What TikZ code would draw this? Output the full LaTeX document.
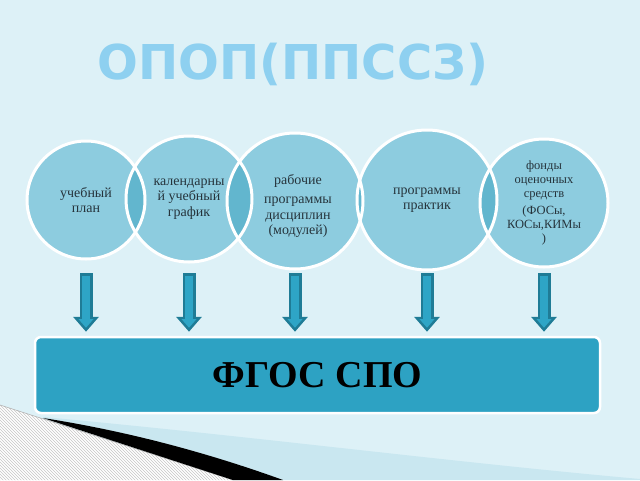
\documentclass[tikz,border=0pt]{standalone}
\usepackage{fontspec}
\setmainfont{Liberation Serif}
\newfontfamily\titlefont{DejaVu Sans}
\usetikzlibrary{arrows.meta,patterns}
\definecolor{bgcol}{HTML}{DDF1F7}
\definecolor{bandcol}{HTML}{C9E7F0}
\definecolor{circfill}{HTML}{8DCCDF}
\definecolor{lensfill}{HTML}{62B6CE}
\definecolor{titlecol}{HTML}{8ED0F0}
\definecolor{textcol}{HTML}{26343C}
\definecolor{arrowfill}{HTML}{2EA5C6}
\definecolor{arrowedge}{HTML}{1F7C96}
\definecolor{boxfill}{HTML}{2DA2C3}
\tikzset{
  bubble/.style={circle,draw=white,line width=3pt,inner sep=0pt,
    align=center,text=textcol,font=\fontsize{14}{15.5}\selectfont},
  bubtext/.style={align=center,text=textcol,font=\fontsize{14}{15.5}\selectfont},
  arrowout/.style={line width=13pt,draw=arrowedge,
    -{Triangle[width=25pt,length=15pt]},shorten >=4pt},
  arrowin/.style={line width=8pt,draw=arrowfill,
    -{Triangle[width=14.5pt,length=8.7pt]},shorten <=2.5pt,shorten >=8pt}
}
\begin{document}
\begin{tikzpicture}[x=1pt,y=-1pt]
	\useasboundingbox (0,0) rectangle (640,480);
	\fill[bgcol] (0,0) rectangle (640,480);
	% corner
	\fill[bandcol] (43,417) .. controls (250,436) and (450,462) .. (640,479)
		-- (640,480) -- (283,480) .. controls (200,450) and (120,430) .. (43,418) -- cycle;
	\fill[white] (0,405) -- (233,480) -- (0,480) -- cycle;
	\fill[pattern=north west lines,pattern color=gray!45] (0,405) -- (233,480) -- (0,480) -- cycle;
	\draw[gray!60,line width=0.6pt] (0,405) -- (233,480);
	\fill[black] (43,418) .. controls (120,430) and (200,450) .. (283,480)
		-- (233,480) -- cycle;
	% title
	\node[text=titlecol,font=\titlefont\bfseries\fontsize{48}{50}\selectfont]
		(title) at (293,64) {ОПОП(ППССЗ)};
	% circles
	\fill[circfill] (86,200) circle (59) (189,199) circle (63) (295,201) circle (68)
		(427,200) circle (70) (544,203) circle (64);
	\begin{scope}\clip (86,200) circle (59); \fill[lensfill] (189,199) circle (63);\end{scope}
	\begin{scope}\clip (189,199) circle (63); \fill[lensfill] (295,201) circle (68);\end{scope}
	\begin{scope}\clip (295,201) circle (68); \fill[lensfill] (427,200) circle (70);\end{scope}
	\begin{scope}\clip (427,200) circle (70); \fill[lensfill] (544,203) circle (64);\end{scope}
	\node[bubble,minimum size=118pt] (plan) at (86,200) {учебный\\план};
	\node[bubble,minimum size=126pt] (graf) at (189,199) {календарны\\й учебный\\график};
	\node[bubble,minimum size=136pt] (prog) at (295,201) {};
	\node[bubtext] (progtext) at ([xshift=3pt,yshift=-5pt]prog.center)
		{рабочие\\[4pt]программы\\дисциплин\\(модулей)};
	\node[bubble,minimum size=140pt] (prak) at (427,200) {программы\\практик};
	\node[bubble,minimum size=128pt,font=\fontsize{12.5}{14}\selectfont]
		(fond) at (544,203) {фонды\\оценочных\\средств\\[3pt](ФОСы,\\КОСы,КИМы\\)};
	% standard
	\node[fill=boxfill,draw=white,line width=2.5pt,rounded corners=6pt,
		minimum width=565pt,minimum height=76pt,
		font=\bfseries\fontsize{38}{40}\selectfont] (fgos) at (317.5,375) {ФГОС СПО};
	\coordinate (arrtop) at (0,273);
	\foreach \c in {plan,graf,prog,prak,fond}{
		\draw[arrowout] (\c.south |- arrtop) -- (\c.south |- fgos.north);
		\draw[arrowin] (\c.south |- arrtop) -- (\c.south |- fgos.north);
	}
\end{tikzpicture}
\end{document}
